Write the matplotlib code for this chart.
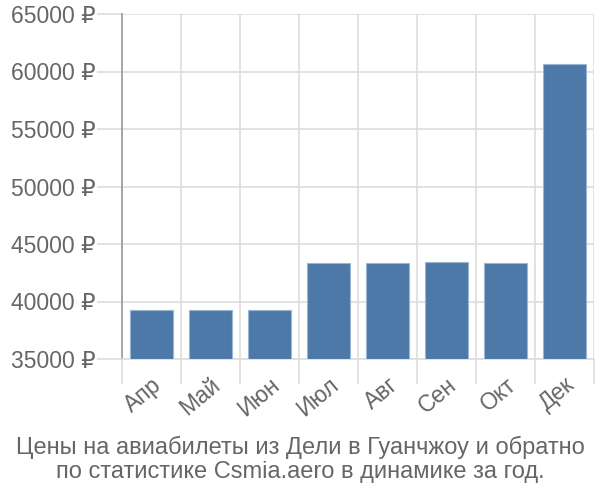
import matplotlib
matplotlib.use("Agg")
import matplotlib.pyplot as plt
import numpy as np

months = ["Апр", "Май", "Июн", "Июл", "Авг", "Сен", "Окт", "Дек"]
prices = [39300, 39300, 39300, 43350, 43350, 43450, 43350, 60650]
yticks = [35000, 40000, 45000, 50000, 55000, 60000, 65000]
title = "Цены на авиабилеты из Дели в Гуанчжоу и обратно\nпо статистике Csmia.aero в динамике за год."

plt.rcParams['font.family'] = ['Liberation Sans', 'DejaVu Sans']

fig = plt.figure(figsize=(6, 5), dpi=100)
ax = fig.add_axes([0.203, 0.282, 0.787, 0.69])

x = np.arange(len(months))
ax.bar(x, np.array(prices) - 35000, bottom=35000, width=0.72,
       color="#4d79a8", edgecolor="#9bb6d3", linewidth=0.8, zorder=3)

ax.set_ylim(35000, 65000)
ax.set_xlim(-0.5, len(months) - 0.5)
ax.set_yticks(yticks)
ax.set_yticklabels([f"{v} ₽" for v in yticks])
ax.set_xticks(np.arange(len(months) + 1) - 0.5, minor=False)
ax.set_xticklabels([])
ax.set_xticks(x, minor=True)
ax.set_xticklabels(months, minor=True, rotation=40, ha='right', rotation_mode='anchor')

ax.grid(True, which='major', color="#dddddd", linewidth=1.2, zorder=0)
ax.tick_params(axis='y', which='major', length=18, color="#dddddd", width=1.2,
               labelsize=16.5, labelcolor="#666666", pad=1)
ax.tick_params(axis='x', which='major', length=18, color="#dddddd", width=1.2)
ax.tick_params(axis='x', which='minor', length=0, labelsize=16.5, labelcolor="#666666", pad=10)

for s in ['top', 'right']:
    ax.spines[s].set_visible(False)
ax.spines['left'].set_color("#999999")
ax.spines['left'].set_linewidth(1.2)
ax.spines['bottom'].set_color("#dddddd")
ax.spines['bottom'].set_linewidth(1.2)

fig.text(0.5, 0.081, title, ha='center', va='center', fontsize=17,
         color="#666666", linespacing=1.1)

fig.savefig("out.png", dpi=100)
